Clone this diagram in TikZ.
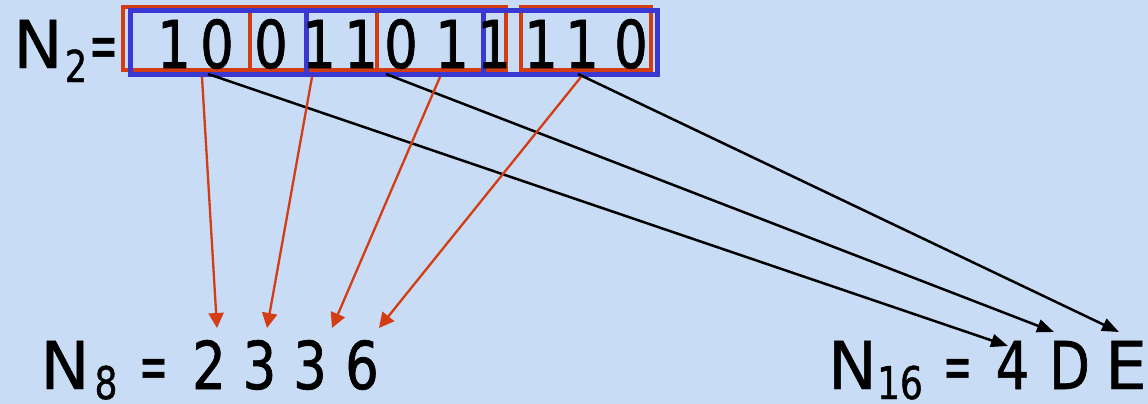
\documentclass[tikz,border=0pt]{standalone}
\usepackage{fontspec}
\setmainfont{DejaVu Sans}[FakeBold=0.6]
\newfontfamily\narrowfont{DejaVu Sans}[FakeStretch=0.8,FakeBold=1.0]
\usetikzlibrary{arrows.meta}
\definecolor{bg}{RGB}{200,220,245}
\definecolor{redbox}{RGB}{212,60,20}
\definecolor{bluebox}{RGB}{58,56,208}
\newcommand{\narroweq}{\scalebox{0.52}[1]{=}}
\tikzset{
 big/.style={font=\fontsize{66}{66}\selectfont, inner sep=0pt, anchor=base, text depth=0pt},
 bignarrow/.style={font=\fontsize{66}{66}\selectfont\narrowfont, inner sep=0pt, anchor=base, text depth=0pt},
 subtext/.style={font=\fontsize{45}{45}\selectfont\narrowfont, inner sep=0pt, anchor=base, text depth=0pt},
 redrect/.style={draw=redbox, line width=4pt},
 bluerect/.style={draw=bluebox, line width=5pt},
 redarrow/.style={draw=redbox, line width=2.3pt, -{Triangle[length=15pt,width=15pt]}},
 blackarrow/.style={draw=black, line width=2.5pt, -{Triangle[length=17pt,width=13pt]}},
}
\begin{document}
\begin{tikzpicture}[x=1pt,y=-1pt]
\fill[bg] (0,0) rectangle (1148,404);
\useasboundingbox (0,0) rectangle (1148,404);
% boxes
\draw[redrect] (123,7) rectangle (249.5,70);
\draw[redrect] (249.5,7) rectangle (377,70);
\draw[redrect] (377,7) rectangle (506,70);
\draw[redrect] (521,7) rectangle (651,70);
\draw[bluerect] (130.5,11) rectangle (306,74.5);
\draw[bluerect] (306,11) rectangle (483,74.5);
\draw[bluerect] (483,11) rectangle (657.5,74.5);
% N2 label
\node[big] (n2) at (38,68) {N};
\node[subtext, font=\fontsize{44}{44}\selectfont\narrowfont] (n2s) at (76,82) {2};
\node[big] (n2e) at (103.5,68) {\narroweq};
% binary digits
\node[bignarrow] (d1) at (174,68) {1};
\node[bignarrow] (d2) at (217,68) {0};
\node[bignarrow] (d3) at (271,68) {0};
\node[bignarrow] (d4) at (319,68) {1};
\node[bignarrow] (d5) at (361,68) {1};
\node[bignarrow] (d6) at (401,68) {0};
\node[bignarrow] (d7) at (452,68) {1};
\node[bignarrow] (d8) at (494,68) {1};
\node[bignarrow] (d9) at (541,68) {1};
\node[bignarrow] (d10) at (582,68) {1};
\node[bignarrow] (d11) at (631,68) {0};
% N8
\node[big] (n8) at (65,389) {N};
\node[subtext] (n8s) at (106,399) {8};
\node[big] (n8e) at (153.5,389) {\narroweq};
\node[bignarrow] (o1) at (209,389) {2};
\node[bignarrow] (o2) at (259.5,389) {3};
\node[bignarrow] (o3) at (310,389) {3};
\node[bignarrow] (o4) at (362,389) {6};
% N16
\node[big] (n16) at (852.5,389) {N};
\node[subtext] (n16s) at (900,399) {16};
\node[big] (n16e) at (957.5,389) {\narroweq};
\node[bignarrow] (h1) at (1012.5,389) {4};
\node[bignarrow] (h2) at (1069.5,389) {D};
\node[big] (h3) at (1126,389) {E};
% arrow end points
\coordinate (r1a) at (202,77);
\coordinate (r1b) at (217,328);
\coordinate (r2a) at (312,77);
\coordinate (r2b) at (267,328);
\coordinate (r3a) at (440,77);
\coordinate (r3b) at (332,328);
\coordinate (r4a) at (581,77);
\coordinate (r4b) at (379,328);
\coordinate (b1a) at (208,74);
\coordinate (b1b) at (1008,346);
\coordinate (b2a) at (386,74);
\coordinate (b2b) at (1054,332);
\coordinate (b3a) at (578,74);
\coordinate (b3b) at (1119,332);
\draw[blackarrow] (b1a) -- (b1b);
\draw[blackarrow] (b2a) -- (b2b);
\draw[blackarrow] (b3a) -- (b3b);
\draw[redarrow] (r1a) -- (r1b);
\draw[redarrow] (r2a) -- (r2b);
\draw[redarrow] (r3a) -- (r3b);
\draw[redarrow] (r4a) -- (r4b);
\end{tikzpicture}
\end{document}
